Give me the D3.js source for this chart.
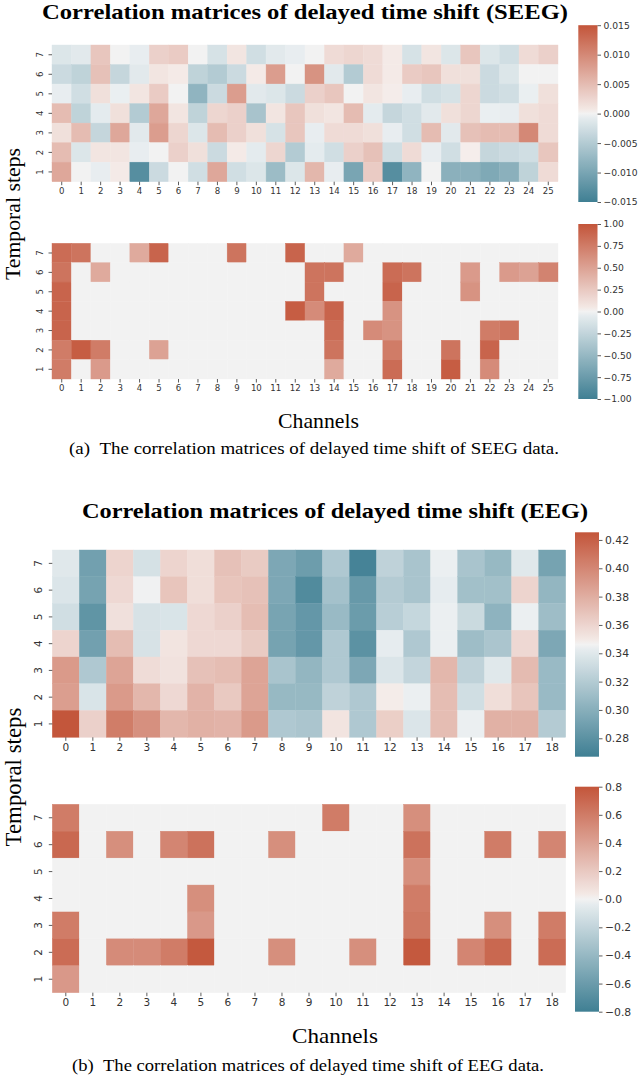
<!DOCTYPE html>
<html><head><meta charset="utf-8">
<script src="https://cdn.jsdelivr.net/npm/d3@7/dist/d3.min.js"></script>
<style>body{margin:0;background:#fff}</style>
</head><body>
<svg id="c" width="640" height="1078" xmlns="http://www.w3.org/2000/svg"></svg>
<script>
// ---------- categories ----------
const seegChannels = ["0","1","2","3","4","5","6","7","8","9","10","11","12","13","14","15","16","17","18","19","20","21","22","23","24","25"];
const eegChannels = ["0","1","2","3","4","5","6","7","8","9","10","11","12","13","14","15","16","17","18"];
const steps = ["7","6","5","4","3","2","1"]; // top to bottom

// ---------- SEEG correlation (rows: step 7 .. step 1) ----------
const seegCorr = [
  [-0.0015,-0.001,0.004,0,-0.0005,0.003,0.0035,0,-0.002,0.001,-0.0025,-0.001,-0.0005,0,0.002,0.0025,0.002,0.0005,-0.002,0.001,-0.0015,0.004,-0.0015,-0.0025,0.002,0.003],
  [-0.003,-0.004,0.0045,-0.0035,-0.001,0.001,0.0005,-0.004,-0.005,-0.003,0.0005,0.008,0,0.009,-0.001,-0.005,0.002,0.0005,0.0035,0.004,0.0015,0.0015,-0.003,-0.0015,0,0],
  [-0.0005,-0.0025,0.0015,-0.0003,0.001,0.0035,0,-0.008,-0.003,0.008,-0.001,-0.0015,-0.003,0.003,0.004,0,0.001,0.0003,-0.0005,-0.0025,-0.002,0.0025,-0.003,-0.0025,-0.0003,0.0015],
  [0.005,-0.004,-0.0008,0.0015,-0.005,0.007,0.001,-0.004,0.0025,0.003,-0.006,0.001,0.004,0.0015,0.001,0.005,-0.0008,-0.0035,-0.0025,-0.001,0.0015,0.0025,-0.0003,-0.0005,0.0015,0.002],
  [0.0015,0.005,-0.0035,0.007,-0.001,0.008,0.0025,-0.0015,0.005,0.003,0.0015,-0.002,0.004,-0.0005,0.002,0.002,0.0015,-0.0005,-0.0025,0.005,-0.001,0.0045,0.005,0.005,0.010,0.002],
  [0.005,-0.0015,0.001,0.001,-0.0005,0,0.003,0.0015,-0.003,0.0005,-0.0008,0.0025,-0.005,-0.0008,-0.0025,0.003,0.0045,-0.0025,0.002,-0.0005,-0.0025,0.0002,-0.0035,-0.003,-0.0025,0.004],
  [0.007,0,-0.0005,0.0005,-0.013,-0.003,0,-0.0025,0.007,-0.0025,-0.0015,-0.007,-0.0015,0.0055,-0.0005,-0.010,0.0035,-0.013,-0.008,0,-0.0085,-0.0085,-0.0095,-0.0085,-0.004,0.002]
];
// ---------- SEEG significant correlation (rows: step 7 .. step 1) ----------
const seegSig = [
  [0.85,0.8,0,0,0.45,0.9,0,0,0,0.8,0,0,0.9,0,0,0.45,0,0,0,0,0,0,0,0,0,0],
  [0.8,0,0.45,0,0,0,0,0,0,0,0,0,0,0.8,0.8,0,0,0.85,0.8,0,0,0.55,0,0.55,0.5,0.7],
  [0.9,0,0,0,0,0,0,0,0,0,0,0,0,0.8,0,0,0,0.9,0,0,0,0.6,0,0,0,0],
  [0.9,0,0,0,0,0,0,0,0,0,0,0,0.95,0.65,0.9,0,0,0.6,0,0,0,0,0,0,0,0],
  [0.9,0,0,0,0,0,0,0,0,0,0,0,0,0,0.85,0,0.65,0.6,0,0,0,0,0.75,0.8,0,0],
  [0.75,0.95,0.75,0,0,0.5,0,0,0,0,0,0,0,0,0.8,0,0,0.75,0,0,0.8,0,0.9,0,0,0],
  [0.75,0,0.55,0,0,0,0,0,0,0,0,0,0,0,0.45,0,0,0.85,0,0,0.95,0,0.65,0,0,0]
];
// ---------- EEG correlation (rows: step 7 .. step 1) ----------
const eegCorr = [
  [0.340,0.290,0.360,0.335,0.360,0.355,0.370,0.365,0.295,0.288,0.318,0.270,0.325,0.315,0.345,0.315,0.307,0.340,0.292],
  [0.338,0.292,0.358,0.346,0.368,0.355,0.368,0.370,0.295,0.275,0.313,0.285,0.320,0.315,0.343,0.312,0.312,0.360,0.305],
  [0.333,0.282,0.354,0.336,0.337,0.358,0.362,0.372,0.293,0.284,0.308,0.287,0.322,0.328,0.345,0.330,0.303,0.345,0.310],
  [0.360,0.290,0.372,0.336,0.352,0.358,0.358,0.365,0.292,0.284,0.318,0.280,0.343,0.318,0.345,0.310,0.316,0.358,0.295],
  [0.390,0.318,0.385,0.356,0.353,0.370,0.372,0.385,0.315,0.305,0.318,0.295,0.338,0.327,0.375,0.325,0.340,0.373,0.308],
  [0.388,0.337,0.390,0.375,0.358,0.377,0.366,0.385,0.307,0.307,0.325,0.318,0.348,0.345,0.372,0.333,0.355,0.368,0.308],
  [0.425,0.362,0.405,0.395,0.375,0.378,0.377,0.390,0.318,0.316,0.352,0.318,0.363,0.338,0.372,0.345,0.378,0.378,0.320]
];
// ---------- EEG significant correlation (rows: step 7 .. step 1) ----------
const eegSig = [
  [0.6,0,0,0,0,0,0,0,0,0,0.6,0,0,0.5,0,0,0,0,0],
  [0.7,0,0.5,0,0.55,0.65,0,0,0.5,0,0,0,0,0.65,0,0,0.6,0,0.55],
  [0,0,0,0,0,0,0,0,0,0,0,0,0,0.5,0,0,0,0,0],
  [0,0,0,0,0,0.5,0,0,0,0,0,0,0,0.6,0,0,0,0,0],
  [0.6,0,0,0,0,0.45,0,0,0,0,0,0,0,0.62,0,0,0.5,0,0.6],
  [0.68,0,0.52,0.52,0.6,0.78,0,0,0.5,0,0,0.5,0,0.78,0,0.55,0.7,0,0.68],
  [0.45,0,0,0,0,0,0,0,0,0,0,0,0,0,0,0,0,0,0]
];
// ---------- colour-bar ranges & ticks ----------
const seegCorrRange = [-0.015, 0.015];
const seegCorrTicks = [-0.015,-0.010,-0.005,0,0.005,0.010,0.015];
const seegSigRange = [-1, 1];
const seegSigTicks = [-1,-0.75,-0.5,-0.25,0,0.25,0.5,0.75,1];
const eegCorrRange = [0.267, 0.4254];
const eegCorrTicks = [0.28,0.30,0.32,0.34,0.36,0.38,0.40,0.42];
const eegSigRange = [-0.8, 0.8];
const eegSigTicks = [-0.8,-0.6,-0.4,-0.2,0,0.2,0.4,0.6,0.8];

// ---------- texts ----------
const titleSEEG = "Correlation matrices of delayed time shift (SEEG)";
const titleEEG = "Correlation matrices of delayed time shift (EEG)";
const yLabel = "Temporal steps";
const xLabel = "Channels";
const captionA = "(a)\u2002The correlation matrices of delayed time shift of SEEG data.";
const captionB = "(b)\u2002The correlation matrices of delayed time shift of EEG data.";

const svg = d3.select("#c");
const TXT = "#333333";
const SANS = "DejaVu Sans, sans-serif";
const SERIF = "Liberation Serif, Times New Roman, serif";

function makeCmap(range) {
  const [lo, hi] = range, span = hi - lo, mid = (lo + hi) / 2, e = span * 0.004;
  return d3.scaleLinear()
    .domain([lo, mid - e, mid, mid + e, hi])
    .range(["#3f7f93", "#ecf0f2", "#f2f2f2", "#f5eeec", "#c3553a"])
    .interpolate(d3.interpolateRgb).clamp(true);
}

let gid = 0;
function heatmap(o) {
  const cmap = makeCmap(o.range);
  const g = svg.append("g");
  const x = d3.scaleBand().domain(o.channels).range([o.x0, o.x1]);
  const y = d3.scaleBand().domain(steps).range([o.y0, o.y1]);
  o.data.forEach((row, ri) => {
    row.forEach((v, ci) => {
      g.append("rect")
        .attr("x", x(o.channels[ci])).attr("y", y(steps[ri]))
        .attr("width", x.bandwidth()).attr("height", y.bandwidth())
        .attr("fill", cmap(v)).attr("stroke", cmap(v)).attr("stroke-width", 0.4);
    });
  });
  // x axis
  const xa = g.append("g").attr("transform", `translate(0,${o.y1})`)
    .call(d3.axisBottom(x).tickSize(3.5).tickPadding(2.5));
  xa.select(".domain").remove();
  xa.selectAll("line").attr("stroke", TXT).attr("stroke-width", 0.8);
  xa.selectAll("text").attr("font-family", SANS).attr("font-size", o.fs).attr("fill", TXT);
  // y axis
  const ya = g.append("g").attr("transform", `translate(${o.x0},0)`)
    .call(d3.axisLeft(y).tickSize(3.5).tickPadding(0));
  ya.select(".domain").remove();
  ya.selectAll("line").attr("stroke", TXT).attr("stroke-width", 0.8);
  ya.selectAll("text").attr("font-family", SANS).attr("font-size", o.fs).attr("fill", TXT)
    .attr("text-anchor", "middle").attr("dy", null).attr("x", null)
    .attr("transform", `translate(${-o.fs * 1.1 - 3},0) rotate(-90)`)
    .attr("dominant-baseline", "central");
  // colour bar
  const id = "grad" + (gid++);
  const grad = svg.append("defs").append("linearGradient").attr("id", id)
    .attr("x1", 0).attr("y1", 1).attr("x2", 0).attr("y2", 0);
  const nStops = 40;
  for (let i = 0; i <= nStops; i++) {
    const v = o.range[0] + (o.range[1] - o.range[0]) * i / nStops;
    grad.append("stop").attr("offset", i / nStops).attr("stop-color", cmap(v));
  }
  svg.append("rect").attr("x", o.cx0).attr("y", o.cy0)
    .attr("width", o.cx1 - o.cx0).attr("height", o.cy1 - o.cy0)
    .attr("fill", `url(#${id})`);
  const cs = d3.scaleLinear().domain(o.range).range([o.cy1, o.cy0]);
  const ca = svg.append("g").attr("transform", `translate(${o.cx1},0)`)
    .call(d3.axisRight(cs).tickValues(o.ticks).tickFormat(d3.format(o.fmt)).tickSize(3.5).tickPadding(2.5));
  ca.select(".domain").remove();
  ca.selectAll("line").attr("stroke", TXT).attr("stroke-width", 0.8);
  ca.selectAll("text").attr("font-family", SANS).attr("font-size", o.cfs).attr("fill", TXT);
}

heatmap({data: seegCorr, channels: seegChannels, range: seegCorrRange, ticks: seegCorrTicks, fmt: ".3f",
  x0: 52, x1: 558, y0: 45, y1: 181.7, cx0: 578.3, cx1: 597.5, cy0: 25.2, cy1: 202, fs: 8.6, cfs: 9.2});
heatmap({data: seegSig, channels: seegChannels, range: seegSigRange, ticks: seegSigTicks, fmt: ".2f",
  x0: 52, x1: 558, y0: 243.3, y1: 379, cx0: 578.3, cx1: 597.5, cy0: 224, cy1: 399, fs: 8.6, cfs: 9.2});
heatmap({data: eegCorr, channels: eegChannels, range: eegCorrRange, ticks: eegCorrTicks, fmt: ".2f",
  x0: 52.3, x1: 565.7, y0: 550, y1: 737.3, cx0: 575, cx1: 599, cy0: 532.3, cy1: 756.7, fs: 10.5, cfs: 10.8});
heatmap({data: eegSig, channels: eegChannels, range: eegSigRange, ticks: eegSigTicks, fmt: ".1f",
  x0: 52.3, x1: 565.7, y0: 804.3, y1: 992.7, cx0: 575, cx1: 599, cy0: 786.7, cy1: 1011.7, fs: 10.5, cfs: 10.8});

// titles
function txt(s, x, y, size, len, opts = {}) {
  const t = svg.append("text").attr("x", x).attr("y", y).text(s)
    .attr("font-family", SERIF).attr("font-size", size).attr("fill", "#000")
    .attr("text-anchor", "middle").attr("textLength", len).attr("lengthAdjust", "spacingAndGlyphs");
  if (opts.bold) t.attr("font-weight", "bold");
  if (opts.rot) t.attr("transform", `rotate(-90,${x},${y})`);
  return t;
}
txt(titleSEEG, 305, 18.5, 22, 526, {bold: true});
txt(titleEEG, 335, 517.5, 22, 506, {bold: true});
txt(yLabel, 20, 214, 22, 132, {rot: true});
txt(yLabel, 21, 777, 23, 139, {rot: true});
txt(xLabel, 318.5, 428, 22, 81);
txt(xLabel, 335, 1043, 22, 86);
txt(captionA, 314, 453.5, 16, 490);
txt(captionB, 308, 1071, 16, 472);
</script>
</body></html>
